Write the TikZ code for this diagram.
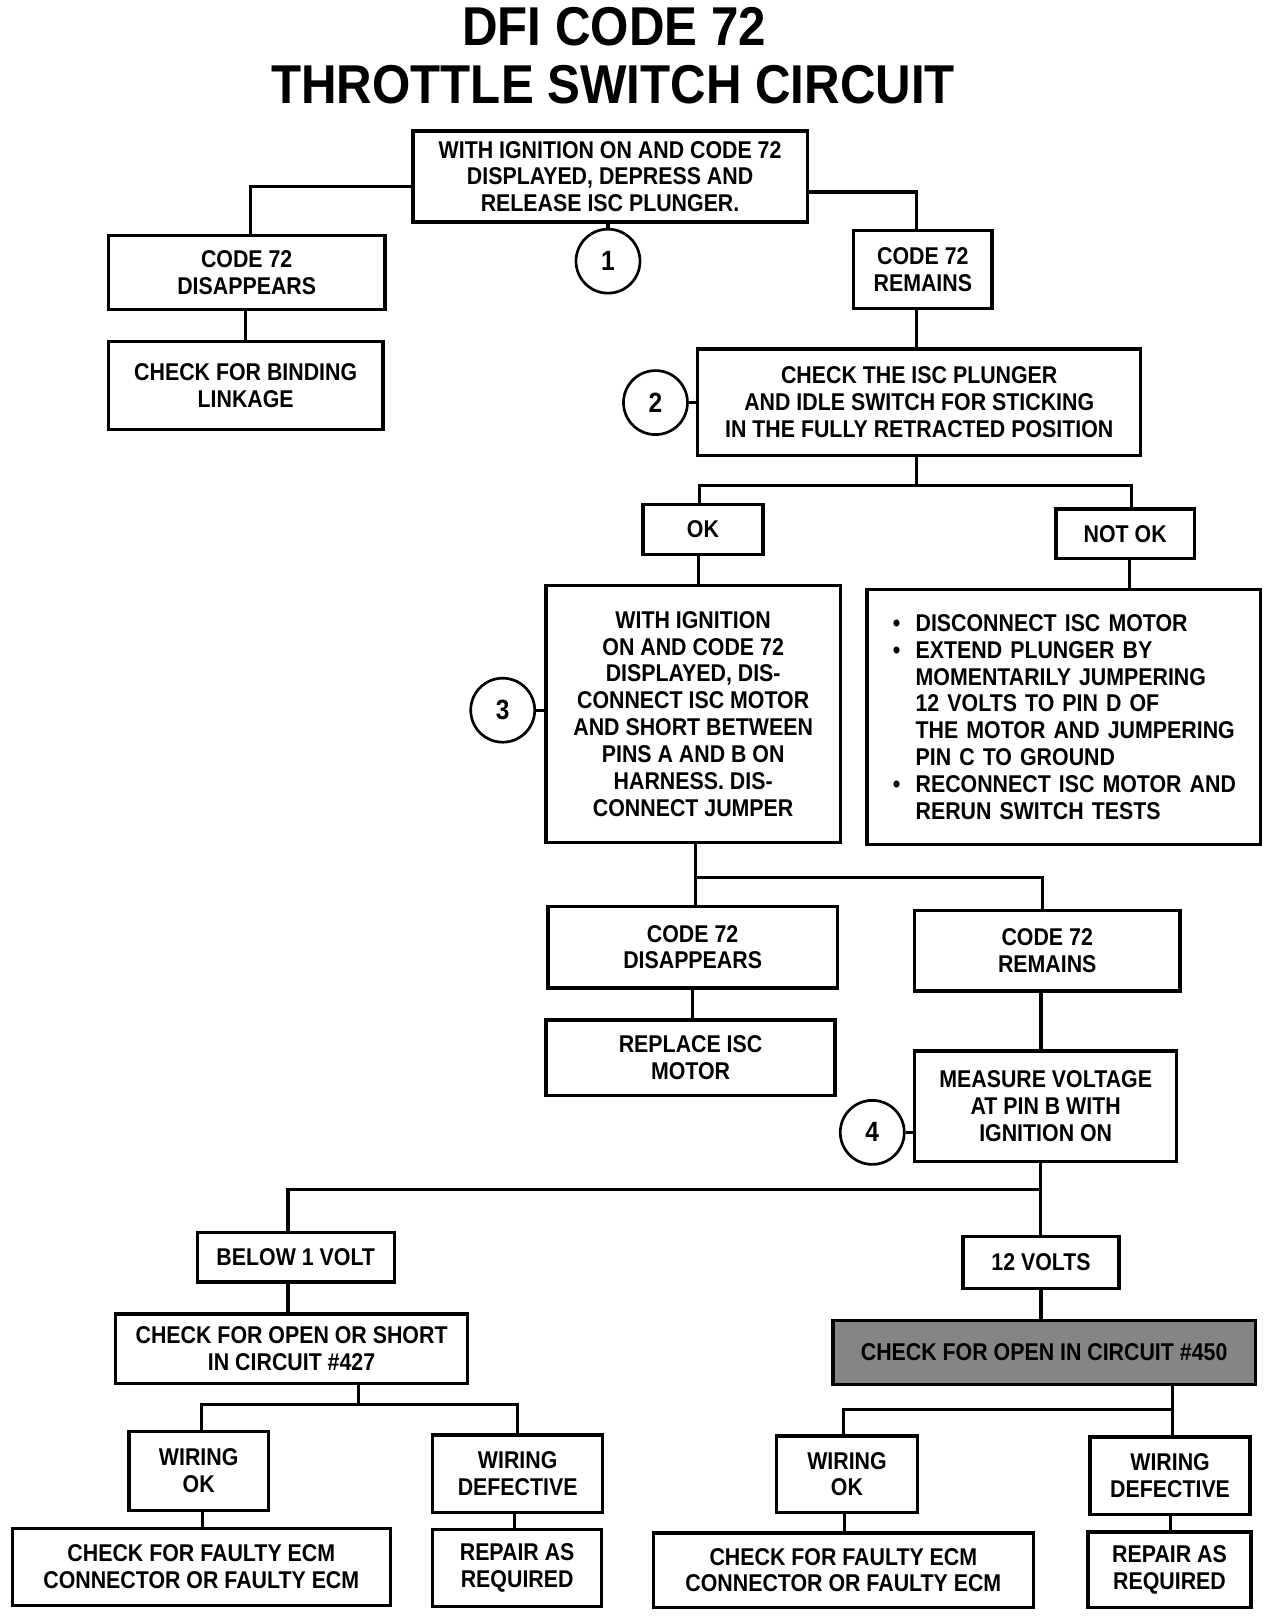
\documentclass[tikz,border=0pt]{standalone}
\usepackage{fontspec}
\setmainfont{Liberation Sans}[FakeStretch=0.88]
\newfontfamily\titlefont{Liberation Sans}[FakeStretch=0.9]
\newcommand\boxtext{\fontsize{23.5}{26}\selectfont\bfseries}
\newcommand\blt{\hspace*{7pt}\makebox[22pt][l]{\textbullet}}
\newcommand\bltind{\hspace*{29pt}}
\tikzset{
  box/.style={draw, line width=3.2pt, align=center, inner sep=0pt, font=\boxtext},
  link/.style={line width=3pt},
  num/.style={circle, draw, line width=2.6pt, minimum size=62pt, inner sep=0pt, font=\fontsize{27}{30}\selectfont\bfseries},
  ttl/.style={anchor=base, inner sep=0pt, font=\titlefont\fontsize{53}{58}\selectfont\bfseries}
}
\begin{document}
\begin{tikzpicture}[x=1pt,y=1pt]
\useasboundingbox (0,0) rectangle (1240,-1573.25);
% title
\node[ttl] (t1) at (595,-44) {DFI CODE 72};
\node[ttl] (t2) at (594,-100) {THROTTLE SWITCH CIRCUIT};
% boxes
\node[box, minimum width=382pt, minimum height=88pt] (top) at (591,-171) {WITH IGNITION ON AND CODE 72\\DISPLAYED, DEPRESS AND\\RELEASE ISC PLUNGER.};
\node[num] (c1) at (589,-253) {1};
\node[box, minimum width=268pt, minimum height=72pt] (dis1) at (239,-264) {CODE 72\\DISAPPEARS};
\node[box, minimum width=266pt, minimum height=85pt] (bind) at (238,-373.5) {CHECK FOR BINDING\\LINKAGE};
\node[box, minimum width=134pt, minimum height=76pt] (rem1) at (894,-261) {CODE 72\\REMAINS};
\node[box, minimum width=429pt, minimum height=103pt] (chk) at (890.5,-389.5) {CHECK THE ISC PLUNGER\\AND IDLE SWITCH FOR STICKING\\IN THE FULLY RETRACTED POSITION};
\node[num] (c2) at (635,-390) {2};
\node[box, minimum width=116pt, minimum height=48pt] (ok) at (681,-513) {OK};
\node[box, minimum width=134pt, minimum height=48pt] (notok) at (1090,-517) {NOT OK};
\node[box, minimum width=285pt, minimum height=249pt] (b3) at (671.5,-691.5) {WITH IGNITION\\ON AND CODE 72\\DISPLAYED, DIS-\\CONNECT ISC MOTOR\\AND SHORT BETWEEN\\PINS A AND B ON\\HARNESS. DIS-\\CONNECT JUMPER};
\node[box, minimum width=381pt, minimum height=247pt, text width=345pt, align=left] (bul) at (1030.5,-694.5) {\hyphenpenalty=10000\blt DISCONNECT ISC MOTOR\\\blt EXTEND PLUNGER BY\\\bltind MOMENTARILY JUMPERING\\\bltind 12 VOLTS TO PIN D OF\\\bltind THE MOTOR AND JUMPERING\\\bltind PIN C TO GROUND\\\blt RECONNECT ISC MOTOR AND\\\bltind RERUN SWITCH TESTS};
\node[num] (c3) at (487,-688) {3};
\node[box, minimum width=280pt, minimum height=79pt] (dis2) at (671,-917.5) {CODE 72\\DISAPPEARS};
\node[box, minimum width=257pt, minimum height=78pt] (rem2) at (1014.5,-921) {CODE 72\\REMAINS};
\node[box, minimum width=280pt, minimum height=73pt] (repl) at (669,-1024.5) {REPLACE ISC\\MOTOR};
\node[box, minimum width=254pt, minimum height=107pt] (meas) at (1013,-1071.5) {MEASURE VOLTAGE\\AT PIN B WITH\\IGNITION ON};
\node[num] (c4) at (845,-1097) {4};
\node[box, minimum width=191pt, minimum height=48pt] (below) at (286.5,-1218) {BELOW 1 VOLT};
\node[box, minimum width=151pt, minimum height=50pt] (v12) at (1008.5,-1223) {12 VOLTS};
\node[box, minimum width=341pt, minimum height=67pt] (c427) at (282.5,-1306.5) {CHECK FOR OPEN OR SHORT\\IN CIRCUIT \#427};
\node[box, fill=black!48, minimum width=409pt, minimum height=62pt] (c450) at (1011.5,-1310) {CHECK FOR OPEN IN CIRCUIT \#450};
\node[box, minimum width=135pt, minimum height=76pt] (wok1) at (192.5,-1425) {WIRING\\OK};
\node[box, minimum width=165pt, minimum height=75pt] (wdef1) at (501.5,-1427.5) {WIRING\\DEFECTIVE};
\node[box, minimum width=366pt, minimum height=74pt] (ecm1) at (195,-1518) {CHECK FOR FAULTY ECM\\CONNECTOR OR FAULTY ECM};
\node[box, minimum width=164pt, minimum height=74pt] (rep1) at (501,-1519) {REPAIR AS\\REQUIRED};
\node[box, minimum width=137pt, minimum height=74pt] (wok2) at (820.5,-1428) {WIRING\\OK};
\node[box, minimum width=155pt, minimum height=75pt] (wdef2) at (1133.5,-1429.5) {WIRING\\DEFECTIVE};
\node[box, minimum width=368pt, minimum height=72pt] (ecm2) at (817,-1521) {CHECK FOR FAULTY ECM\\CONNECTOR OR FAULTY ECM};
\node[box, minimum width=158pt, minimum height=73pt] (rep2) at (1133,-1520.5) {REPAIR AS\\REQUIRED};
% connectors
\draw[link] ([yshift=-10pt]top.west) -| ([xshift=4pt]dis1.north);
\draw[link] ([yshift=-15pt]top.east) -| ([xshift=-6pt]rem1.north);
\draw[link] (top.south -| c1) -- (c1.north);
\draw[link] ([xshift=-1pt]dis1.south) -- ([xshift=-1pt]dis1.south |- bind.north);
\draw[link] ([xshift=-6pt]rem1.south) -- ([xshift=-6pt]rem1.south |- chk.north);
\draw[link] (c2.east) -- (c2.east -| chk.west);
\coordinate (j1) at (888,-470);
\draw[link] (j1 |- chk.south) -- (j1);
\draw[link] (j1) -| ([xshift=-3pt]ok.north);
\draw[link] (j1) -| ([xshift=6pt]notok.north);
\draw[link] ([xshift=-4pt]ok.south) -- ([xshift=-4pt]ok.south |- b3.north);
\draw[link] ([xshift=4pt]notok.south) -- ([xshift=4pt]notok.south |- bul.north);
\draw[link] (c3.east) -- (c3.east -| b3.west);
\coordinate (j2) at (674,-850);
\draw[link] (j2 |- b3.south) -- (j2 |- dis2.north);
\draw[link] (j2) -| ([xshift=-4.5pt]rem2.north);
\draw[link] (dis2.south) -- (dis2.south |- repl.north);
\draw[link] ([xshift=-6pt]rem2.south) -- ([xshift=-6pt]rem2.south |- meas.north);
\draw[link] (c4.east) -- (c4.east -| meas.west);
\coordinate (j3) at (1008,-1152);
\draw[link] (j3 |- meas.south) -- (j3 |- v12.north);
\draw[link] (j3) -| ([xshift=-7.5pt]below.north);
\draw[link] ([xshift=-7.5pt]below.south) -- ([xshift=-7.5pt]below.south |- c427.north);
\draw[link] (v12.south) -- (v12.south |- c450.north);
\coordinate (j4) at (347,-1361);
\draw[link] (j4 |- c427.south) -- (j4);
\draw[link] (j4) -| ([xshift=2.5pt]wok1.north);
\draw[link] (j4) -| ([xshift=-0.5pt]wdef1.north);
\coordinate (j5) at (1136,-1365);
\draw[link] (j5 |- c450.south) -- (j5 |- wdef2.north);
\draw[link] (j5) -| ([xshift=-3.5pt]wok2.north);
\draw[link] ([xshift=3.5pt]wok1.south) -- ([xshift=3.5pt]wok1.south |- ecm1.north);
\draw[link] ([xshift=-3.5pt]wdef1.south) -- ([xshift=-3.5pt]wdef1.south |- rep1.north);
\draw[link] ([xshift=-2.5pt]wok2.south) -- ([xshift=-2.5pt]wok2.south |- ecm2.north);
\draw[link] ([xshift=0.5pt]wdef2.south) -- ([xshift=0.5pt]wdef2.south |- rep2.north);
\end{tikzpicture}
\end{document}
